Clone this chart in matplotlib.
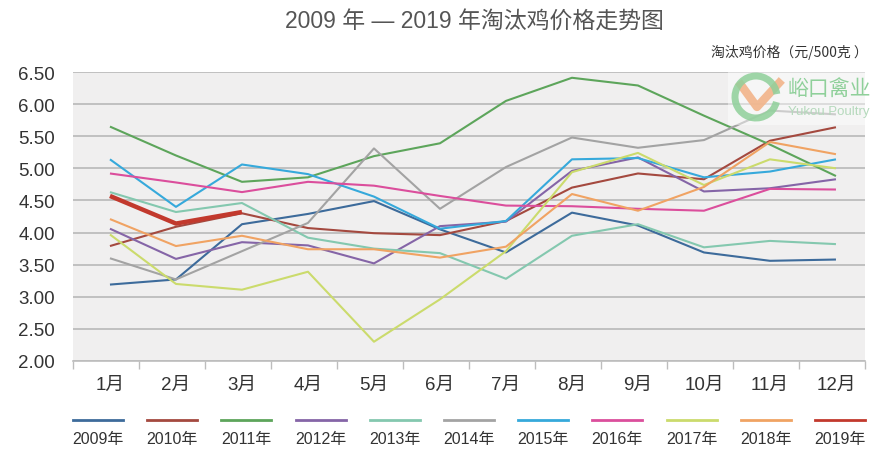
import matplotlib
matplotlib.use("Agg")
import matplotlib.pyplot as plt
from matplotlib.lines import Line2D
from matplotlib.patches import Arc, Rectangle
import numpy as np

plt.rcParams['font.family'] = ['Liberation Sans', 'Noto Sans CJK SC', 'DejaVu Sans']

months = ['1月', '2月', '3月', '4月', '5月', '6月', '7月', '8月', '9月', '10月', '11月', '12月']
years = ['2009年', '2010年', '2011年', '2012年', '2013年', '2014年',
         '2015年', '2016年', '2017年', '2018年', '2019年']

p2009 = [3.19, 3.27, 4.13, 4.29, 4.49, 4.05, 3.69, 4.31, 4.11, 3.69, 3.56, 3.58]
p2010 = [3.79, 4.09, 4.30, 4.07, 3.99, 3.96, 4.18, 4.70, 4.92, 4.83, 5.43, 5.64]
p2011 = [5.65, 5.20, 4.79, 4.86, 5.19, 5.39, 6.05, 6.41, 6.29, 5.82, 5.37, 4.88]
p2012 = [4.06, 3.59, 3.85, 3.80, 3.52, 4.10, 4.17, 4.96, 5.17, 4.64, 4.69, 4.83]
p2013 = [4.63, 4.32, 4.46, 3.92, 3.75, 3.68, 3.28, 3.95, 4.13, 3.77, 3.87, 3.82]
p2014 = [3.60, 3.27, 3.71, 4.15, 5.31, 4.37, 5.02, 5.48, 5.32, 5.44, 5.90, 5.84]
p2015 = [5.14, 4.40, 5.06, 4.91, 4.56, 4.06, 4.18, 5.14, 5.16, 4.86, 4.95, 5.14]
p2016 = [4.92, 4.78, 4.63, 4.79, 4.73, 4.57, 4.42, 4.41, 4.37, 4.34, 4.68, 4.67]
p2017 = [3.97, 3.20, 3.11, 3.39, 2.30, 2.96, 3.71, 4.94, 5.24, 4.74, 5.14, 5.00]
p2018 = [4.21, 3.79, 3.95, 3.74, 3.74, 3.61, 3.78, 4.60, 4.34, 4.71, 5.41, 5.22]
p2019 = [4.57, 4.14, 4.32]

series = [p2009, p2010, p2011, p2012, p2013, p2014, p2015, p2016, p2017, p2018, p2019]
colors = ['#3D6B9B', '#A4493F', '#5DA55B', '#8565A7', '#84C8AF', '#A3A3A3',
          '#36A9DB', '#DB4E9C', '#CBDB6C', '#F0A363', '#C2392D']
widths = [1.5] * 10 + [3.2]

W, H = 889, 464
fig = plt.figure(figsize=(W / 100, H / 100), dpi=100)
ax = fig.add_axes([73 / W, 1 - 362 / H, (865 - 73) / W, (362 - 73) / H])
ax.set_facecolor('#F0EFEF')

for vals, c, lw, lab in zip(series, colors, widths, years):
    x = np.arange(len(vals))
    ax.plot(x, vals, color=c, lw=lw, label=lab, solid_capstyle='butt', zorder=3)

off = -0.56
ax.set_xlim(off, off + 12)
ax.set_ylim(2.0, 6.5)
ax.set_yticks(np.arange(2.0, 6.51, 0.5))
ax.set_yticklabels([f'{v:.2f}' for v in np.arange(2.0, 6.51, 0.5)])
ax.yaxis.grid(True, color='#BDBDBD', lw=1.3, zorder=1)
ax.set_axisbelow(True)
ax.set_xticks(np.arange(12))
ax.set_xticklabels(months)
ax.set_xticks([off + k for k in range(13)], minor=True)
ax.tick_params(axis='x', which='major', length=0, pad=11, labelsize=13.5, colors='#333333')
ax.tick_params(axis='x', which='minor', length=6, width=1, color='#BDBDBD')
ax.tick_params(axis='y', length=0, pad=13, labelsize=13.5, colors='#333333')
for s in ['left', 'right', 'top']:
    ax.spines[s].set_visible(False)
ax.spines['bottom'].set_color('#BDBDBD')
ax.spines['bottom'].set_linewidth(1.2)

# title & unit
fig.text(474 / W, 1 - 22 / H, '2009 年 — 2019 年淘汰鸡价格走势图', ha='center', va='center',
         fontsize=16.5, color='#555555',
         family=['Liberation Sans', 'Noto Sans CJK SC'])
fig.text(868 / W, 1 - 52 / H, '淘汰鸡价格（元/500克 ）', ha='right', va='center',
         fontsize=10, color='#333333', family=['Noto Sans CJK SC'])

# watermark logo
fig.patches.append(Rectangle((728 / W, 1 - 126 / H), 142 / W, 54 / H,
                             transform=fig.transFigure, facecolor='white', alpha=0.45,
                             edgecolor='none', zorder=5))
fig.patches.append(Arc((756 / W, 1 - 98 / H), 42 / W, 42 / H, theta1=15, theta2=335,
                       transform=fig.transFigure, color='#8FD09A', lw=5, alpha=0.85, zorder=6))
fig.add_artist(Line2D([741 / W, 757 / W, 779 / W], [1 - 86 / H, 1 - 108 / H, 1 - 84 / H],
                      transform=fig.transFigure, color='#F2B48A', lw=6, alpha=0.9, zorder=6))
fig.text(829 / W, 1 - 90 / H, '峪口禽业', ha='center', va='center', fontsize=15,
         color='#8FD09A', family=['Noto Sans CJK SC'], zorder=7)
fig.text(829 / W, 1 - 112 / H, 'Yukou Poultry', ha='center', va='center', fontsize=9.5,
         color='#B5D9BC', zorder=7)

# legend (line above label)
handles, labels = ax.get_legend_handles_labels()
x0, dx, seg = 73, 74.2, 50
for i, (h, lab) in enumerate(zip(handles, labels)):
    xs = x0 + i * dx
    fig.add_artist(Line2D([xs / W, (xs + seg) / W], [1 - 421 / H, 1 - 421 / H],
                          transform=fig.transFigure, color=h.get_color(), lw=2.0))
    fig.text((xs + seg / 2) / W, 1 - 440 / H, lab, ha='center', va='center',
             fontsize=11.5, color='#333333',
             family=['Liberation Sans', 'Noto Sans CJK SC'])

fig.savefig('out.png', dpi=100, facecolor='white')
